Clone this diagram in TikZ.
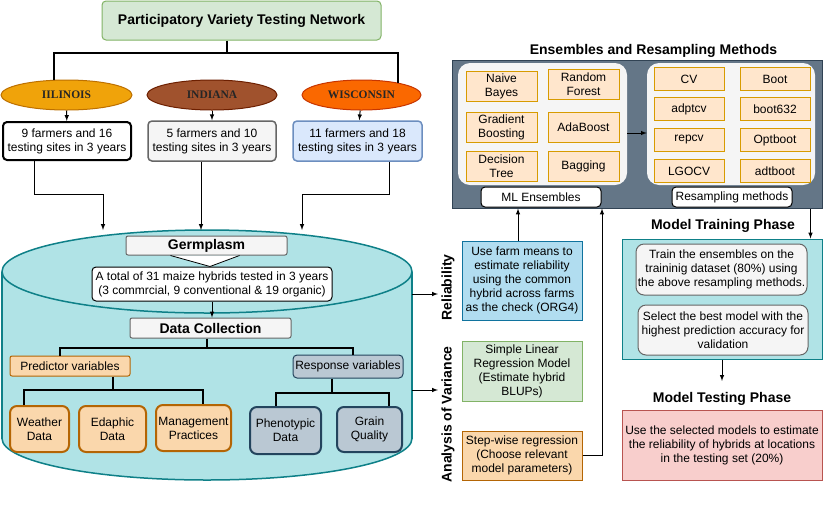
\documentclass[tikz,border=0pt]{standalone}
\usepackage{fontspec}
\setmainfont{Liberation Sans}
\newfontfamily\statefont{Liberation Serif}
\usepackage{tikz}
\usetikzlibrary{shapes.geometric, positioning}
\definecolor{netfill}{HTML}{D5E8D4}
\definecolor{netline}{HTML}{82B366}
\definecolor{ilfill}{HTML}{F0A30A}
\definecolor{illine}{HTML}{BD7000}
\definecolor{indfill}{HTML}{A0522D}
\definecolor{indline}{HTML}{6D1F00}
\definecolor{wifill}{HTML}{FA6800}
\definecolor{wiline}{HTML}{C73500}
\definecolor{greyfill}{HTML}{F5F5F5}
\definecolor{greyline}{HTML}{666666}
\definecolor{bluefill}{HTML}{DAE8FC}
\definecolor{blueline}{HTML}{6C8EBF}
\definecolor{dbfill}{HTML}{B0E3E6}
\definecolor{dbline}{HTML}{0E8088}
\definecolor{predfill}{HTML}{FAD7AC}
\definecolor{predline}{HTML}{B46504}
\definecolor{respfill}{HTML}{BAC8D3}
\definecolor{respline}{HTML}{23445D}
\definecolor{slatefill}{HTML}{647687}
\definecolor{slateline}{HTML}{314354}
\definecolor{ensfill}{HTML}{FFE6CC}
\definecolor{ensline}{HTML}{D79B00}
\definecolor{relfill}{HTML}{B1DDF0}
\definecolor{relline}{HTML}{10739E}
\definecolor{testfill}{HTML}{F8CECC}
\definecolor{testline}{HTML}{B85450}

\begin{document}
\begin{tikzpicture}[
    x=1pt, y=-1pt,
    font=\fontsize{12}{14}\selectfont,
    head/.style={font=\fontsize{14}{16}\selectfont\bfseries},
    state/.style={ellipse, minimum height=30, inner sep=0pt, line width=1pt,
                  text=black!85, font=\statefont\fontsize{11.5}{13}\selectfont\bfseries},
    box/.style={rectangle, rounded corners=4pt, line width=1pt, align=center, inner sep=1pt},
    sqbox/.style={rectangle, line width=1pt, align=center, inner sep=1pt},
    leaf/.style={box, rounded corners=7pt, line width=2pt},
    method/.style={sqbox, fill=ensfill, draw=ensline, minimum width=71, minimum height=30},
    rsmethod/.style={sqbox, fill=ensfill, draw=ensline, minimum width=70, minimum height=23},
    panel/.style={rectangle, rounded corners=12pt, fill=greyfill, inner sep=0pt},
    tag/.style={box, fill=white, draw=black, minimum width=120, minimum height=20},
    tree/.style={line width=2pt},
    arrow/.style={-latex, line width=1pt}
]
    \fill[white] (0,0) rectangle (830,523);
    \useasboundingbox (0,0) rectangle (830,523);

    % Network and states
    \node[box, head, fill=netfill, draw=netline, minimum width=279, minimum height=39] (pvt) at (241.5,20.5) {Participatory Variety Testing Network};
    \node[state, fill=ilfill, draw=illine, minimum width=131] (il) at (66.5,95) {IILINOIS};
    \node[state, fill=indfill, draw=indline, minimum width=130] (ind) at (212,95) {INDIANA};
    \node[state, fill=wifill, draw=wiline, minimum width=119] (wi) at (361.5,95) {WISCONSIN};
    \node[box, fill=white, draw=black, line width=2pt, minimum width=128, minimum height=38] (ilfarm) at (67,141) {9 farmers and 16\\testing sites in 3 years};
    \node[box, fill=greyfill, draw=greyline, line width=1.5pt, minimum width=128, minimum height=40] (indfarm) at (212,141) {5 farmers and 10\\testing sites in 3 years};
    \node[box, fill=bluefill, draw=blueline, line width=1.5pt, minimum width=129, minimum height=40] (wifarm) at (357.5,141) {11 farmers and 18\\testing sites in 3 years};

    \draw[tree] ([xshift=-14.5pt]pvt.south) -- ++(0,12) coordinate (netsplit);
    \draw[tree] ([xshift=-12.5pt]il.north) |- (netsplit) -| ([xshift=36.5pt,yshift=-3pt]wi.north);
    \draw[arrow] (il) -- (ilfarm);
    \draw[arrow] (ind) -- (indfarm);
    \draw[arrow] (wi) -- (wifarm);

    % Database cylinder
    \draw[dbline, fill=dbfill, line width=1.5pt] (207,438.5) ellipse [x radius=205, y radius=41.5];
    \fill[dbfill] (2,271.5) rectangle (412,438.5);
    \draw[dbline, line width=1.5pt] (2,271.5) -- (2,438.5) (412,271.5) -- (412,438.5);
    \draw[dbline, fill=dbfill, line width=1.5pt] (207,271.5) ellipse [x radius=205, y radius=41.5];
    \coordinate (dbA) at (103,230);
    \coordinate (dbB) at (201,230);
    \coordinate (dbC) at (302,230);
    \coordinate (dbR) at (412,294);
    \coordinate (dbS) at (412,390);

    \draw[arrow] ([xshift=-33pt]ilfarm.south) -- ++(0,33) -| (dbA);
    \draw[arrow] ([xshift=-11pt]indfarm.south) -- (dbB);
    \draw[arrow] ([xshift=31.5pt]wifarm.south) -- ++(0,33) -| (dbC);

    % Germplasm and data collection
    \node[box, head, fill=greyfill, draw=greyline, rounded corners=2pt, minimum width=161, minimum height=19] (germ) at (206.5,245.5) {Germplasm};
    \node[box, fill=white, draw=black, minimum width=240, minimum height=34] (hyb) at (212,284) {A total of 31 maize hybrids tested in 3 years\\(3 commrcial, 9 conventional \& 19 organic)};
    \draw[fill=white, line width=0.8pt] ([xshift=-36pt]germ.south) -- ([xshift=3.5pt]hyb.north -| germ.south) -- ([xshift=33pt]germ.south);
    \node[box, head, fill=greyfill, draw=greyline, rounded corners=2pt, minimum width=161, minimum height=20] (dc) at (210.5,328) {Data Collection};
    \draw[arrow] (hyb.south) -- (hyb.south |- dc.north);

    \node[box, fill=predfill, draw=predline, rounded corners=2pt, minimum width=120, minimum height=20] (pred) at (70,366) {Predictor variables};
    \node[box, fill=respfill, draw=respline, minimum width=110, minimum height=23] (resp) at (348,366.5) {Response variables};
    \draw[tree] ([xshift=-3.5pt]dc.south) -- ++(0,9) coordinate (dcsplit);
    \draw[tree] ([xshift=-10pt]pred.north) |- (dcsplit) -| ([xshift=5pt]resp.north);

    \node[leaf, fill=predfill, draw=predline, minimum width=59, minimum height=46] (weather) at (39.5,429) {Weather\\Data};
    \node[leaf, fill=predfill, draw=predline, minimum width=67, minimum height=46] (edaphic) at (112.5,429) {Edaphic\\Data};
    \node[leaf, fill=predfill, draw=predline, minimum width=75, minimum height=46] (mgmt) at (193.5,428) {Management\\Practices};
    \node[leaf, fill=respfill, draw=respline, minimum width=71, minimum height=47] (pheno) at (285.5,430.5) {Phenotypic\\Data};
    \node[leaf, fill=respfill, draw=respline, minimum width=65, minimum height=45] (grain) at (369.5,429.5) {Grain\\Quality};
    \draw[tree] ([xshift=43pt]pred.south) -- ++(0,13) coordinate (predsplit);
    \draw[tree] ([xshift=-15.5pt]weather.north) |- (predsplit) -| ([xshift=9.5pt]mgmt.north);
    \draw[tree] ([xshift=-16pt]resp.south) -- ++(0,14) coordinate (respsplit);
    \draw[tree] ([xshift=-9.5pt]pheno.north) |- (respsplit) -| ([xshift=19.5pt]grain.north);

    % Reliability and analysis of variance
    \node[head, rotate=90] (rel) at (448,287.5) {Reliability};
    \node[head, rotate=90] (anova) at (448,414.5) {Analysis of Variance};
    \draw[arrow] (dbR) -- (dbR -| rel.north);
    \draw[arrow] (dbS) -- (dbS -| anova.north);
    \node[sqbox, fill=relfill, draw=relline, minimum width=120, minimum height=79] (relbox) at (522,280.5) {Use farm means to\\estimate reliability\\using the common\\hybrid across farms\\as the check (ORG4)};
    \node[sqbox, fill=netfill, draw=netline, minimum width=120, minimum height=60] (slr) at (522,371) {Simple Linear\\Regression Model\\(Estimate hybrid\\BLUPs)};
    \node[sqbox, fill=predfill, draw=predline, minimum width=120, minimum height=49] (sw) at (522,455.5) {Step-wise regression\\(Choose relevant\\model parameters)};

    % Ensembles and resampling methods
    \node[head] (enstitle) at (653.5,51) {Ensembles and Resampling Methods};
    \node[sqbox, fill=slatefill, draw=slateline, minimum width=370, minimum height=148] (ens) at (637,134) {};
    \node[panel, minimum width=169, minimum height=122] (mlpanel) at (542.5,124) {};
    \node[panel, minimum width=168, minimum height=122] (rspanel) at (731,124) {};

    \node[method] (nb) at (501.5,86) {Naive\\Bayes};
    \node[method, right=10pt of nb, yshift=1.5pt] (rf) {Random\\Forest};
    \node[method, below=10pt of nb] (gb) {Gradient\\Boosting};
    \node[method, right=10pt of gb] (ada) {AdaBoost};
    \node[method, below=8pt of gb] (dt) {Decision\\Tree};
    \node[method, right=10pt of dt] (bag) {Bagging};

    \node[rsmethod] (cv) at (689,79) {CV};
    \node[rsmethod, right=15pt of cv] (boot) {Boot};
    \node[rsmethod, below=6pt of cv] (adptcv) {adptcv};
    \node[rsmethod, right=15pt of adptcv] (bsix) {boot632};
    \node[rsmethod, below=7pt of adptcv] (repcv) {repcv};
    \node[rsmethod, right=15pt of repcv] (optboot) {Optboot};
    \node[rsmethod, below=7pt of repcv] (lgocv) {LGOCV};
    \node[rsmethod, right=15pt of lgocv] (adtboot) {adtboot};

    \node[tag] (mltag) at (541,197) {ML Ensembles};
    \node[tag] (rstag) at (732,197) {Resampling methods};
    \draw[arrow] ([yshift=-9pt]mlpanel.east) -- ([yshift=-9pt]mlpanel.east -| rspanel.west);

    \draw[arrow] ([xshift=-4pt]relbox.north) -- ([xshift=-4pt]relbox.north |- ens.south);
    \draw[arrow] (sw.east) -| ([xshift=-35pt]ens.south);

    % Training and testing phases
    \node[head] (traintitle) at (723,226) {Model Training Phase};
    \node[sqbox, fill=dbfill, draw=dbline, minimum width=200, minimum height=120] (train) at (722,299) {};
    \node[box, fill=greyfill, draw=greyline, rounded corners=8pt, minimum width=171, minimum height=51] (trainA) at (721.5,269.5) {Train the ensembles on the\\traininig dataset (80\%) using\\the above resampling methods.};
    \node[box, fill=greyfill, draw=greyline, rounded corners=8pt, minimum width=170, minimum height=50] (trainB) at (723,330) {Select the best model with the\\highest prediction accuracy for\\validation};
    \draw[arrow] ([xshift=-12pt]ens.south east) -- ([xshift=-12pt]ens.south east |- train.north);

    \node[head] (testtitle) at (722,399) {Model Testing Phase};
    \node[sqbox, fill=testfill, draw=testline, minimum width=200, minimum height=70] (test) at (722,445) {Use the selected models to estimate\\the reliability of hybrids at locations\\in the testing set (20\%)};
    \draw[arrow] (train.south) -- ([yshift=8pt]testtitle.north);

\end{tikzpicture}
\end{document}
